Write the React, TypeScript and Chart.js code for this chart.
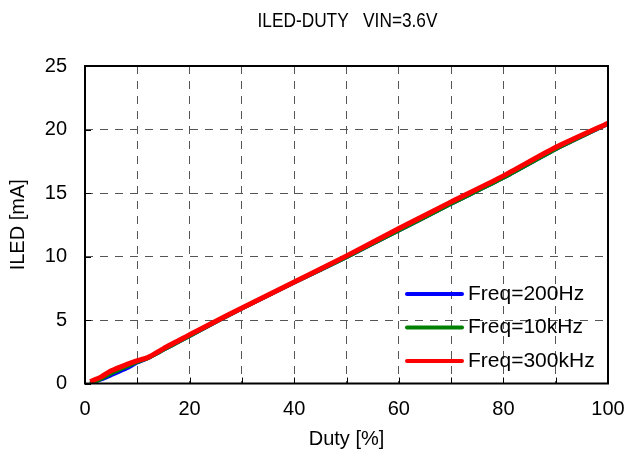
import React, { useEffect, useRef } from "react";
import { Chart, registerables } from "chart.js";

Chart.register(...registerables);

const chartTitle = "ILED-DUTY   VIN=3.6V";
const xAxisTitle = "Duty [%]";
const yAxisTitle = "ILED [mA]";
const xTickLabels = [0, 20, 40, 60, 80, 100];

const duty = [1, 3, 5, 8, 10, 12, 15, 18, 20, 25, 30, 40, 50, 60, 70, 80, 90, 100];
const iled200Hz = [0.05, 0.3, 0.65, 1.2, 1.65, 2.0, 2.65, 3.3, 3.75, 4.85, 5.9, 7.95, 9.95, 12.05, 14.15, 16.2, 18.45, 20.45];
const iled10kHz = [0.0, 0.35, 0.8, 1.35, 1.7, 2.0, 2.65, 3.3, 3.75, 4.85, 5.9, 7.95, 9.95, 12.05, 14.15, 16.2, 18.45, 20.45];
const iled300kHz = [0.15, 0.5, 1.0, 1.5, 1.8, 2.05, 2.75, 3.4, 3.85, 4.9, 5.95, 8.0, 10.05, 12.2, 14.3, 16.35, 18.6, 20.5];

const seriesLabels = ["Freq=200Hz", "Freq=10kHz", "Freq=300kHz"];
const seriesColors = ["#0000ff", "#008000", "#ff0000"];

const FONT = "'Liberation Sans', Arial, sans-serif";

const toPoints = (ys: number[]) => duty.map((x, i) => ({ x, y: ys[i] }));

const framePlugin = {
  id: "frame",
  afterDatasetsDraw(chart: any) {
    const { ctx, chartArea: a, scales } = chart;
    ctx.save();
    ctx.strokeStyle = "#000";
    ctx.lineWidth = 1;
    ctx.beginPath();
    scales.y.ticks.forEach((t: any) => {
      const y = Math.round(scales.y.getPixelForValue(t.value)) + 0.5;
      ctx.moveTo(a.left, y);
      ctx.lineTo(a.left + 6, y);
    });
    scales.x.ticks.forEach((t: any) => {
      const x = Math.round(scales.x.getPixelForValue(t.value)) + 0.5;
      ctx.moveTo(x, a.bottom);
      ctx.lineTo(x, a.bottom - 6);
    });
    ctx.stroke();
    ctx.lineWidth = 2;
    ctx.strokeRect(a.left, a.top, a.right - a.left, a.bottom - a.top);
    ctx.restore();
  },
  afterDraw(chart: any) {
    const { ctx, chartArea: a } = chart;
    ctx.save();
    // title
    ctx.font = `21px ${FONT}`;
    ctx.fillStyle = "#000";
    ctx.textBaseline = "middle";
    ctx.textAlign = "center";
    const w = ctx.measureText(chartTitle).width;
    const sx = 180 / w;
    const cx = (a.left + a.right) / 2 + 1;
    ctx.save();
    ctx.translate(cx, 21);
    ctx.scale(sx, 1);
    ctx.fillText(chartTitle, 0, 0);
    ctx.restore();

    // legend
    const x0 = a.left + 322;
    const x1 = x0 + 55;
    const yStart = a.top + 228;
    const step = 33.5;
    ctx.font = `21px ${FONT}`;
    ctx.textAlign = "left";
    chart.data.datasets.forEach((ds: any, i: number) => {
      const y = yStart + i * step;
      ctx.strokeStyle = ds.borderColor;
      ctx.lineWidth = 4;
      ctx.lineCap = "round";
      ctx.beginPath();
      ctx.moveTo(x0, y);
      ctx.lineTo(x1, y);
      ctx.stroke();
      ctx.fillStyle = "#000";
      ctx.fillText(ds.label, x1 + 6, y);
    });
    ctx.restore();
  },
};

export default function App() {
  const ref = useRef<HTMLCanvasElement>(null);
  useEffect(() => {
    if (!ref.current) return;
    const seriesData = [iled200Hz, iled10kHz, iled300kHz];
    const chart = new Chart(ref.current, {
      type: "line",
      data: {
        datasets: seriesData.map((ys, i) => ({
          label: seriesLabels[i],
          data: toPoints(ys),
          borderColor: seriesColors[i],
          backgroundColor: seriesColors[i],
          borderWidth: i === 2 ? 5 : 4,
          pointRadius: 0,
          tension: 0.2,
          fill: false,
          order: 2 - i,
        })),
      },
      options: {
        responsive: false,
        animation: false,
        devicePixelRatio: 1,
        layout: { padding: { left: 0, right: 22, top: 66, bottom: 0 } },
        plugins: {
          legend: { display: false },
          tooltip: { enabled: false },
          title: { display: false },
        },
        scales: {
          x: {
            type: "linear",
            min: 0,
            max: 100,
            afterFit: (s: any) => {
              s.height = 72.5;
              s.paddingRight = 0;
              s.paddingLeft = 0;
            },
            ticks: {
              stepSize: 10,
              autoSkip: false,
              maxRotation: 0,
              padding: 14,
              color: "#000",
              font: { family: FONT, size: 20 },
              callback: (v: any) => (xTickLabels.includes(Number(v)) ? String(v) : ""),
            },
            grid: {
              drawTicks: false,
              color: "#555",
              lineWidth: 1,
            },
            border: { display: false, dash: [8, 7] },
            title: {
              display: true,
              text: xAxisTitle,
              color: "#000",
              font: { family: FONT, size: 20 },
              padding: { top: 0, bottom: 5 },
            },
          },
          y: {
            type: "linear",
            min: 0,
            max: 25,
            afterFit: (s: any) => {
              s.width = 85;
              s.paddingTop = 0;
              s.paddingBottom = 0;
            },
            ticks: {
              stepSize: 5,
              padding: 18,
              color: "#000",
              font: { family: FONT, size: 20 },
            },
            grid: {
              drawTicks: false,
              color: "#555",
              lineWidth: 1,
            },
            border: { display: false, dash: [8, 7] },
            title: {
              display: true,
              text: yAxisTitle,
              color: "#000",
              font: { family: FONT, size: 20 },
              padding: { top: 6, bottom: 0 },
            },
          },
        },
      },
      plugins: [framePlugin],
    } as any);
    return () => chart.destroy();
  }, []);
  return (
    <div style={{ position: "absolute", left: 0, top: 0, width: 630, height: 456, background: "#fff" }}>
      <canvas ref={ref} width={630} height={456} style={{ display: "block" }} />
    </div>
  );
}
